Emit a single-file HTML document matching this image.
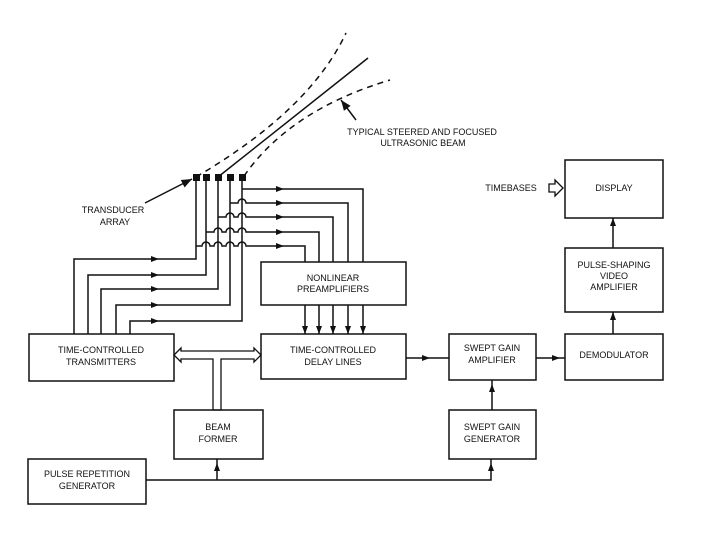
<!DOCTYPE html>
<html><head><style>
body{margin:0;background:#fff}
svg{display:block}
text{font-family:"Liberation Sans",Arial,sans-serif;font-size:9px;fill:#111;text-anchor:middle}
</style></head><body>
<svg width="720" height="540" viewBox="0 0 720 540">
<defs>
<marker id="e" viewBox="0 0 10 10" refX="10" refY="5" markerWidth="7" markerHeight="7" orient="auto"><path d="M0,1 L10,5 L0,9z" fill="#111"/></marker>
</defs>
<g fill="none" stroke="#111" stroke-width="1.5">
<rect x="29" y="334" width="145" height="47"/>
<rect x="261" y="334" width="145" height="45"/>
<rect x="261" y="262" width="145" height="43"/>
<rect x="174" y="410" width="89" height="49"/>
<rect x="28" y="459" width="118" height="45"/>
<rect x="449" y="334" width="87" height="46"/>
<rect x="449" y="410" width="87" height="49"/>
<rect x="565" y="334" width="98" height="46"/>
<rect x="565" y="248" width="98" height="64"/>
<rect x="565" y="160" width="98" height="58"/>
<path d="M218,177 L368,58"/>
<path d="M196,177 Q310,110 346,33" stroke-dasharray="6,5"/>
<path d="M244,176 Q290,110 390,80" stroke-dasharray="6,5"/>
<path d="M356,120 L341,100" marker-end="url(#e)"/>
<path d="M145,203 L192,179" marker-end="url(#e)"/>
<path d="M196,180 V259 H74 V334"/>
<path d="M206,180 V275 H88 V334"/>
<path d="M218,180 V289 H101 V334"/>
<path d="M230,180 V305 H116 V334"/>
<path d="M242,180 V321 H130 V334"/>
<path d="M242,189 H363 V262"/>
<path d="M230,203 H238 a4,4 0 0 1 8,0 H348 V262"/>
<path d="M218,217 H226 a4,4 0 0 1 8,0 H238 a4,4 0 0 1 8,0 H333 V262"/>
<path d="M206,232 H214 a4,4 0 0 1 8,0 H226 a4,4 0 0 1 8,0 H238 a4,4 0 0 1 8,0 H319 V262"/>
<path d="M196,246 H202 a4,4 0 0 1 8,0 H214 a4,4 0 0 1 8,0 H226 a4,4 0 0 1 8,0 H238 a4,4 0 0 1 8,0 H305 V262"/>
<path d="M305,305 V334"/><path d="M319,305 V334"/><path d="M333,305 V334"/><path d="M348,305 V334"/><path d="M363,305 V334"/>
<path d="M406,358 H449"/>
<path d="M536,358 H565"/>
<path d="M146,480 H491 V459"/>
<path d="M217,480 V459"/>
<path d="M492,410 V380"/>
<path d="M613,334 V312"/>
<path d="M613,248 V218"/>
<path d="M174,355 L181,348 V351 H254 V348 L261,355 L254,362 V359 H221 V410 H213 V359 H181 V362 Z" stroke-width="1.3"/>
<path d="M549,184 H555 V180 L563,188 L555,196 V192 H549 Z" stroke-width="1.3"/>
</g>
<g fill="#111">
<path d="M159,259 l-8,-3 v6z"/><path d="M159,275 l-8,-3 v6z"/><path d="M159,289 l-8,-3 v6z"/><path d="M159,305 l-8,-3 v6z"/><path d="M159,321 l-8,-3 v6z"/>
<path d="M284,189 l-8,-3 v6z"/><path d="M284,203 l-8,-3 v6z"/><path d="M284,217 l-8,-3 v6z"/><path d="M284,232 l-8,-3 v6z"/><path d="M284,246 l-8,-3 v6z"/>
<path d="M305,334 l-3,-8 h6z"/><path d="M319,334 l-3,-8 h6z"/><path d="M333,334 l-3,-8 h6z"/><path d="M348,334 l-3,-8 h6z"/><path d="M363,334 l-3,-8 h6z"/>
<path d="M430,358 l-8,-3 v6z"/><path d="M560,358 l-8,-3 v6z"/>
<path d="M217,463 l-3,8 h6z"/><path d="M491,463 l-3,8 h6z"/>
<path d="M492,384 l-3,8 h6z"/><path d="M613,312 l-3,8 h6z"/><path d="M613,218 l-3,8 h6z"/>
<rect x="193" y="174" width="7" height="7"/><rect x="203" y="174" width="7" height="7"/><rect x="215" y="174" width="7" height="7"/><rect x="227" y="174" width="7" height="7"/><rect x="239" y="174" width="7" height="7"/>
</g>
<text x="422" y="135">TYPICAL STEERED  AND FOCUSED</text>
<text x="423" y="146">ULTRASONIC BEAM</text>
<text x="113" y="213">TRANSDUCER</text>
<text x="115" y="225">ARRAY</text>
<text x="511" y="191">TIMEBASES</text>
<text x="614" y="191">DISPLAY</text>
<text x="614" y="268">PULSE-SHAPING</text>
<text x="614" y="279">VIDEO</text>
<text x="614" y="290">AMPLIFIER</text>
<text x="614" y="358">DEMODULATOR</text>
<text x="333" y="281">NONLINEAR</text>
<text x="333" y="292">PREAMPLIFIERS</text>
<text x="333" y="353">TIME-CONTROLLED</text>
<text x="333" y="365">DELAY LINES</text>
<text x="101" y="353">TIME-CONTROLLED</text>
<text x="101" y="365">TRANSMITTERS</text>
<text x="492" y="351">SWEPT GAIN</text>
<text x="492" y="363">AMPLIFIER</text>
<text x="492" y="430">SWEPT GAIN</text>
<text x="492" y="442">GENERATOR</text>
<text x="218" y="430">BEAM</text>
<text x="218" y="442">FORMER</text>
<text x="87" y="477">PULSE REPETITION</text>
<text x="87" y="489">GENERATOR</text>
</svg>
</body></html>
